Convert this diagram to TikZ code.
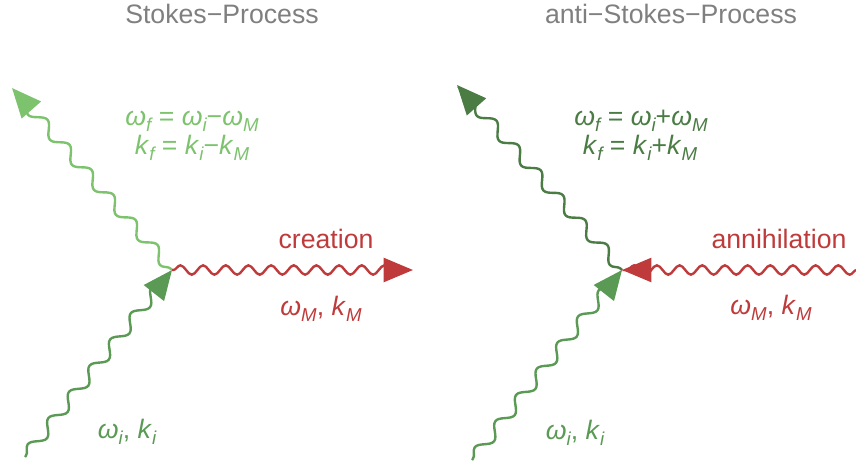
\documentclass[tikz,border=0pt]{standalone}
\usepackage{fontspec}
\setmainfont{Liberation Sans}
\usetikzlibrary{decorations.pathmorphing,arrows.meta}
\definecolor{titlegray}{HTML}{7F7F7F}
\definecolor{lightgreen}{HTML}{7DC36E}
\definecolor{midgreen}{HTML}{5B9A55}
\definecolor{darkgreen}{HTML}{4A7C44}
\definecolor{wavered}{HTML}{BF3B3B}
\newcommand\mysub[1]{\raisebox{-0.22em}{\fontsize{14pt}{14pt}\selectfont\itshape #1}}
\begin{document}
\begin{tikzpicture}[x=0.75pt,y=-0.75pt,
  photon/.style={line width=1.8pt,decorate,
    decoration={snake,segment length=25pt,amplitude=4.3pt,pre length=1pt,post length=3pt},
    -{Triangle[length=22pt,width=19pt]}},
  phonon/.style={line width=1.8pt,decorate,
    decoration={snake,segment length=17pt,amplitude=3.5pt,pre length=1pt,post length=3pt},
    -{Triangle[length=22pt,width=18pt]}},
  lbl/.style={font=\fontsize{20pt}{24pt}\selectfont,inner sep=0pt,align=center},
  title/.style={lbl,text=titlegray}]
\useasboundingbox (0,0) rectangle (856,464);
% titles
\node[title] (t1) at (222,14) {Stokes−Process};
\node[title] (t2) at (671,14) {anti−Stokes−Process};
% left diagram
\coordinate (lv) at (172,270);
\coordinate (lin) at (25,457);
\coordinate (lout) at (12,88);
\coordinate (lred) at (413,270);
\draw[photon,draw=midgreen] (lin) -- (lv);
\draw[photon,draw=lightgreen] (lv) -- (lout);
\draw[phonon,draw=wavered] (lv) -- (lred);
\node[lbl,text=lightgreen] (leq1) at (192,121) {\textit{ω}\mysub{f} = \textit{ω}\mysub{i}−\textit{ω}\mysub{M}};
\node[lbl,text=lightgreen] (leq2) at (192,148) {\textit{k}\mysub{f} = \textit{k}\mysub{i}−\textit{k}\mysub{M}};
\node[lbl,text=wavered] (lcre) at (326,239) {creation};
\node[lbl,text=wavered] (lm) at (321,309) {\textit{ω}\mysub{M}, \textit{k}\mysub{M}};
\node[lbl,text=midgreen] (li) at (127,432) {\textit{ω}\mysub{i}, \textit{k}\mysub{i}};
% right diagram
\coordinate (rv) at (622,270);
\coordinate (rin) at (472,460);
\coordinate (rout) at (457,85);
\coordinate (rred) at (858,270);
\draw[photon,draw=midgreen] (rin) -- (rv);
\draw[photon,draw=darkgreen] (rv) -- (rout);
\draw[phonon,draw=wavered] (rred) -- (rv);
\node[lbl,text=darkgreen] (req1) at (641,121) {\textit{ω}\mysub{f} = \textit{ω}\mysub{i}+\textit{ω}\mysub{M}};
\node[lbl,text=darkgreen] (req2) at (640,148) {\textit{k}\mysub{f} = \textit{k}\mysub{i}+\textit{k}\mysub{M}};
\node[lbl,text=wavered] (rann) at (779,239) {annihilation};
\node[lbl,text=wavered] (rm) at (771,308) {\textit{ω}\mysub{M}, \textit{k}\mysub{M}};
\node[lbl,text=midgreen] (ri) at (575,433) {\textit{ω}\mysub{i}, \textit{k}\mysub{i}};
\end{tikzpicture}
\end{document}
